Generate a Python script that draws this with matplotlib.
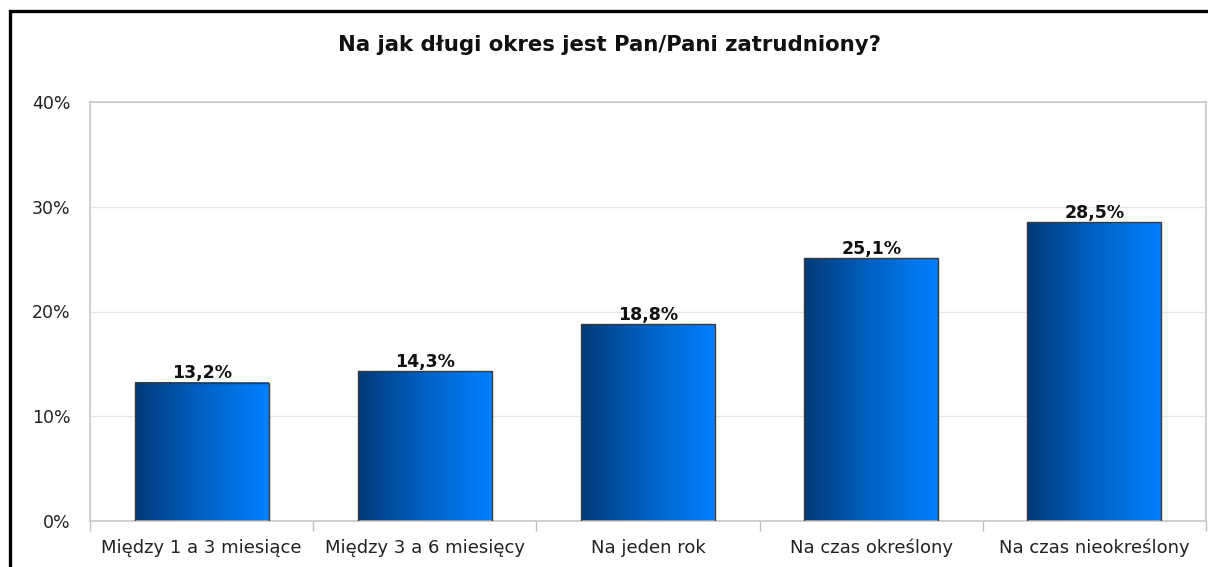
import numpy as np
import matplotlib.pyplot as plt
from matplotlib.colors import LinearSegmentedColormap
from matplotlib.patches import Rectangle

plt.rcParams['font.family'] = ['DejaVu Sans']

# Survey answers
categories = ["Między 1 a 3 miesiące", "Między 3 a 6 miesięcy", "Na jeden rok",
              "Na czas określony", "Na czas nieokreślony"]
values = [13.2, 14.3, 18.8, 25.1, 28.5]
labels = ["13,2%", "14,3%", "18,8%", "25,1%", "28,5%"]
yticks = [0, 10, 20, 30, 40]

fig = plt.figure(figsize=(12.08, 5.67), dpi=100)
ax = fig.add_axes([90 / 1208, 1 - 521 / 567, 1116 / 1208, 419 / 567])

# outer frame, cut off on the right and bottom
fig.patches.append(Rectangle((10 / 1208, -0.1), 1.2, 1 - 11 / 567 + 0.1,
                             transform=fig.transFigure, fill=False,
                             edgecolor='black', linewidth=2.4, zorder=10))

cmap = LinearSegmentedColormap.from_list('bar', ['#003a78', '#0062c4', '#0080ff'])
grad = np.linspace(0, 1, 256).reshape(1, -1)
width = 0.6
x = np.arange(len(values))
for xi, v, lab in zip(x, values, labels):
    ax.imshow(grad, cmap=cmap, aspect='auto', extent=(xi - width / 2, xi + width / 2, 0, v),
              zorder=2, interpolation='bicubic')
    ax.add_patch(Rectangle((xi - width / 2, 0), width, v, fill=False,
                           edgecolor='#3a3a3a', linewidth=1.0, zorder=3))
    ax.text(xi, v + 0.05, lab, ha='center', va='bottom', fontsize=12.5,
            fontweight='bold', color='#111111', zorder=4)

ax.set_xlim(-0.5, len(values) - 0.5)
ax.set_ylim(0, 40)
ax.set_yticks(yticks)
ax.set_yticklabels([f"{t}%" for t in yticks], fontsize=12.5, color='#222222')
ax.tick_params(axis='y', length=0, pad=14)
ax.set_xticks(x)
ax.set_xticklabels(categories, fontsize=13, color='#222222')
# keep all category names on one baseline
for t in ax.get_xticklabels():
    t.set_verticalalignment('baseline')
ax.set_xticks(np.arange(len(values) + 1) - 0.5, minor=True)
ax.tick_params(axis='x', which='major', length=0, pad=23)
ax.tick_params(axis='x', which='minor', length=7, color='#c0c0c0', width=1)

ax.grid(axis='y', color='#e6e6e6', linewidth=1, zorder=0)
ax.set_axisbelow(True)
for s in ax.spines.values():
    s.set_color('#c8c8c8')
    s.set_linewidth(1.2)

fig.text(610 / 1208, 1 - 45 / 567, "Na jak długi okres jest Pan/Pani zatrudniony?",
         ha='center', va='center', fontsize=15.3, fontweight='bold', color='#111111')

fig.savefig('out.png', dpi=100)
